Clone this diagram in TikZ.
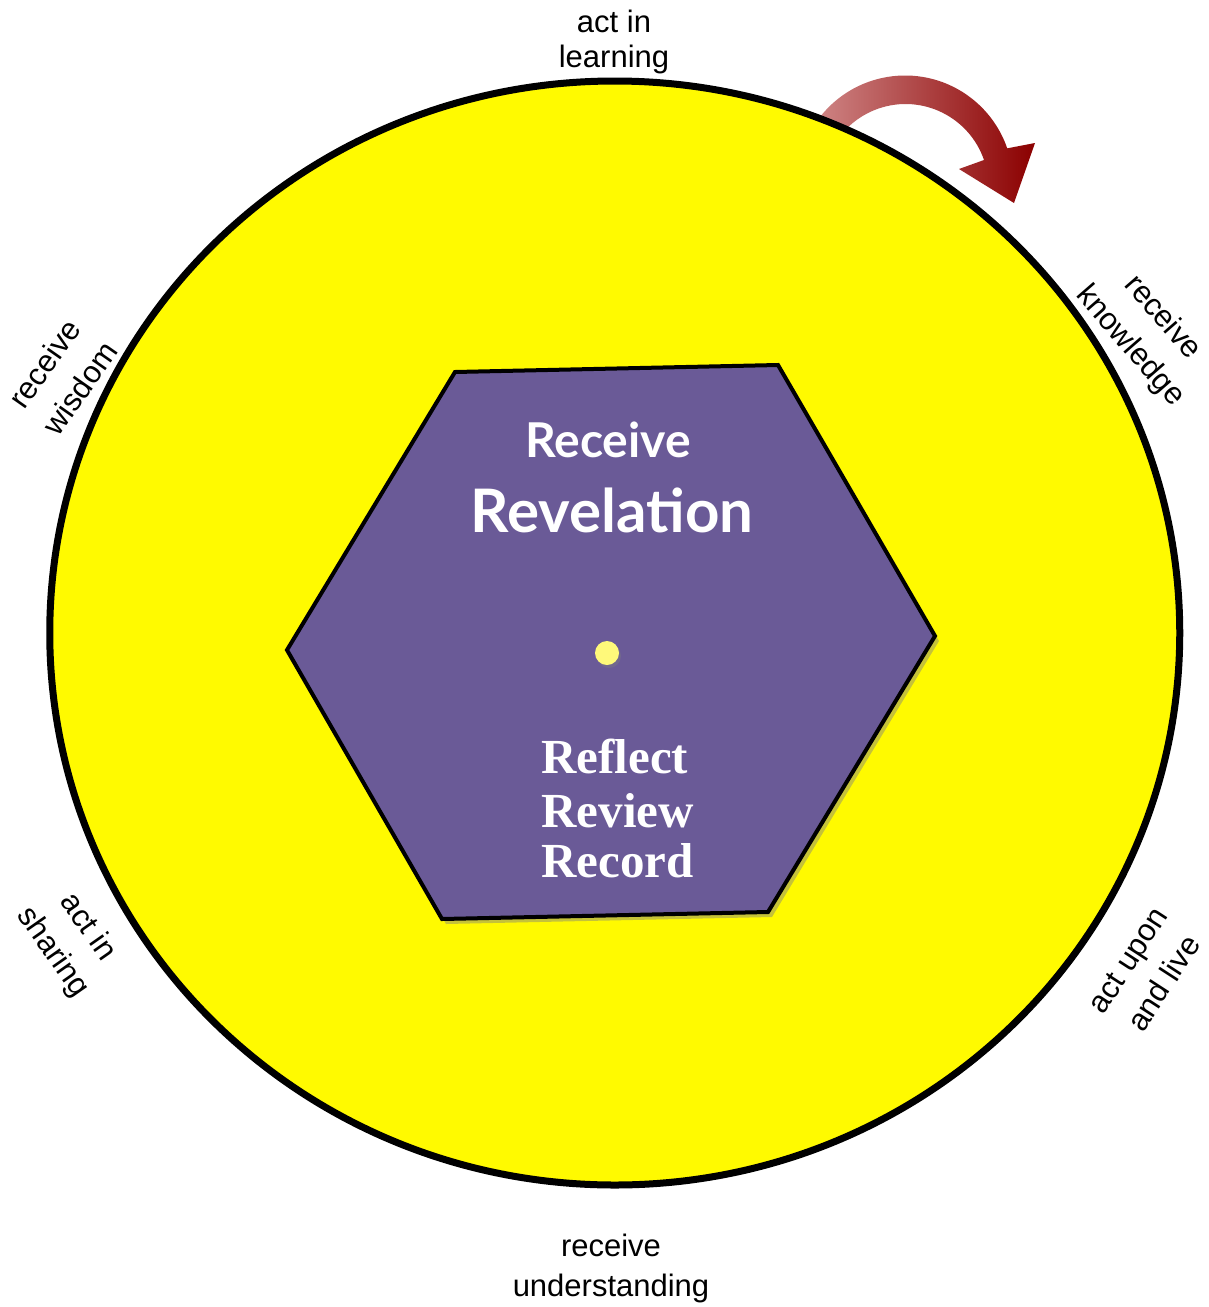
\documentclass[tikz,border=0pt]{standalone}
\usepackage{fontspec}
\setmainfont{Liberation Sans}
\newfontfamily\headfont{Lato}
\newfontfamily\serifont{Liberation Serif}
\usetikzlibrary{shadows}
\definecolor{ringyellow}{RGB}{255,250,0}
\definecolor{hexpurple}{RGB}{106,90,151}
\definecolor{dotyellow}{RGB}{255,249,122}
\definecolor{arrowred}{RGB}{139,0,0}
\definecolor{arrowpale}{RGB}{205,130,130}
\begin{document}
\begin{tikzpicture}[x=0.5pt,y=-0.5pt,
  lbl/.style={font=\fontsize{15.5}{20}\selectfont, align=center, inner sep=0pt, text=black},
  rlbl/.style={lbl, font=\fontsize{15.5}{21.5}\selectfont},
  hextext/.style={text=white, inner sep=0pt},
  ringstyle/.style={line width=3.5pt, draw=black, fill=ringyellow},
  hexstyle/.style={line width=2pt, draw=black, fill=hexpurple, line join=miter,
    drop shadow={shadow xshift=2pt, shadow yshift=-2.5pt, opacity=0.45}},
  dotstyle/.style={fill=dotyellow, drop shadow={shadow xshift=1pt, shadow yshift=-1.5pt, opacity=0.35}}]
\useasboundingbox (0,0) rectangle (1209,1307);
\fill[white] (0,0) rectangle (1209,1307);
% curved arrow (behind the ring outline)
\coordinate (aos) at (820,117);
\coordinate (ahb1) at (1035,143);
\coordinate (atip) at (1014,203);
\coordinate (ahb2) at (959,169);
\coordinate (aie) at (984,160);
\shade[left color=arrowpale, middle color=arrowred, right color=arrowred]
  (aos) arc[start angle=-142, end angle=-19, radius=108] -- (ahb1) -- (atip) -- (ahb2) -- (aie)
  arc[start angle=-19, end angle=-142, radius=83] -- cycle;
% outer ring
\draw[ringstyle] (614.75,633) ellipse [x radius=565, y radius=552];
% hexagon
\coordinate (h1) at (455,372);
\coordinate (h2) at (778,365);
\coordinate (h3) at (935,636);
\coordinate (h4) at (768,912);
\coordinate (h5) at (442,919);
\coordinate (h6) at (287,650);
\draw[hexstyle] (h1) -- (h2) -- (h3) -- (h4) -- (h5) -- (h6) -- cycle;
% centre dot
\fill[dotstyle] (607,653) circle [radius=12];
% labels around the ring
\node[lbl, font=\fontsize{15.5}{17.5}\selectfont] (top) at (614,42) {act in\\learning};
\node[lbl] (bottom) at (611,1268) {receive\\understanding};
\node[rlbl, rotate=-49] (knowledge) at (1146,332) {receive\\knowledge};
\node[rlbl, rotate=55] (wisdom) at (62,376) {receive\\wisdom};
\node[rlbl, rotate=-55] (sharing) at (70,940) {act in\\sharing};
\node[rlbl, rotate=57] (live) at (1146,972) {act upon\\and live};
% hexagon text
\node[hextext, anchor=base, font=\headfont\bfseries\fontsize{24}{28}\selectfont] (receive) at (608,457) {Receive};
\node[hextext, anchor=base, font=\headfont\bfseries\fontsize{30}{34}\selectfont] (revelation) at (612,532) {Revelation};
\node[hextext, anchor=base west, font=\serifont\bfseries\fontsize{24.5}{28}\selectfont] (reflect) at (541,773) {Reflect};
\node[hextext, anchor=base west, font=\serifont\bfseries\fontsize{24.5}{28}\selectfont] (review) at (541,827) {Review};
\node[hextext, anchor=base west, font=\serifont\bfseries\fontsize{24.5}{28}\selectfont] (record) at (541,877) {Record};
\end{tikzpicture}
\end{document}
